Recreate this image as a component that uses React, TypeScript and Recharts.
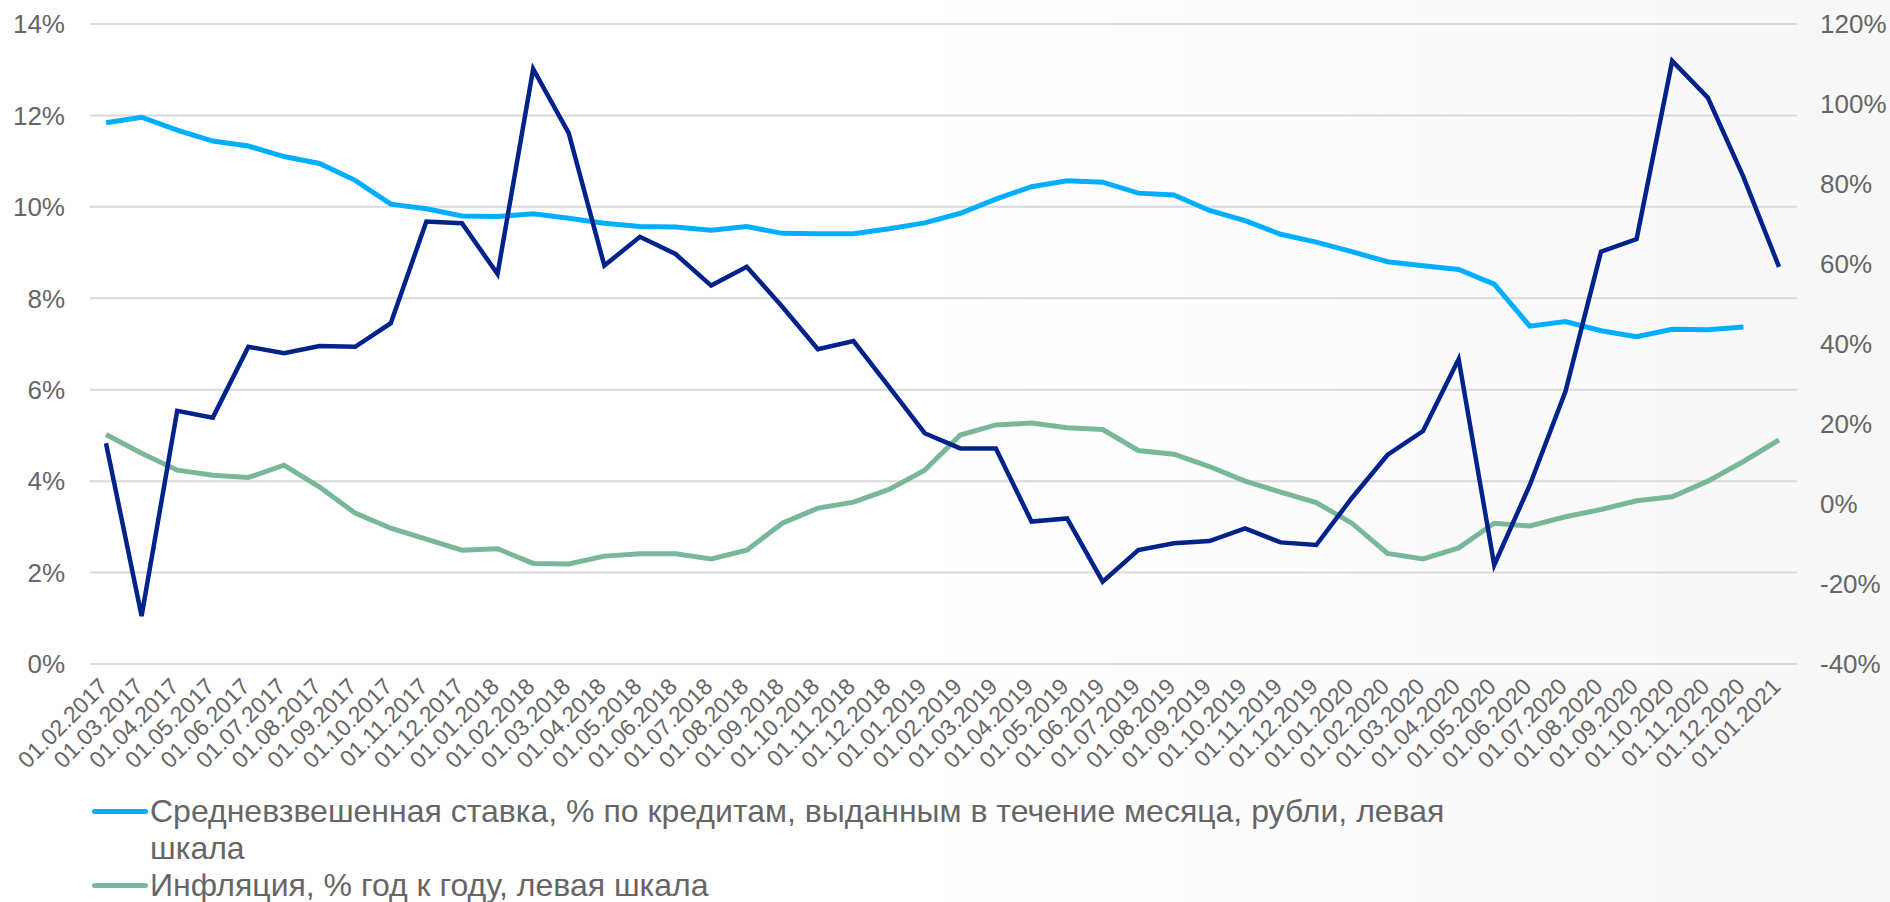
import { CartesianGrid, Line, LineChart, XAxis, YAxis } from "recharts";

const DATES = [
  "01.02.2017", "01.03.2017", "01.04.2017", "01.05.2017", "01.06.2017", "01.07.2017",
  "01.08.2017", "01.09.2017", "01.10.2017", "01.11.2017", "01.12.2017", "01.01.2018",
  "01.02.2018", "01.03.2018", "01.04.2018", "01.05.2018", "01.06.2018", "01.07.2018",
  "01.08.2018", "01.09.2018", "01.10.2018", "01.11.2018", "01.12.2018", "01.01.2019",
  "01.02.2019", "01.03.2019", "01.04.2019", "01.05.2019", "01.06.2019", "01.07.2019",
  "01.08.2019", "01.09.2019", "01.10.2019", "01.11.2019", "01.12.2019", "01.01.2020",
  "01.02.2020", "01.03.2020", "01.04.2020", "01.05.2020", "01.06.2020", "01.07.2020",
  "01.08.2020", "01.09.2020", "01.10.2020", "01.11.2020", "01.12.2020", "01.01.2021",
];

// left scale, %
const RATE = [
  11.84, 11.96, 11.68, 11.44, 11.33, 11.1, 10.95, 10.58, 10.06, 9.96, 9.8, 9.79,
  9.85, 9.75, 9.64, 9.57, 9.56, 9.49, 9.57, 9.42, 9.41, 9.41, 9.52, 9.65,
  9.86, 10.17, 10.44, 10.57, 10.54, 10.3, 10.26, 9.92, 9.7, 9.4, 9.23, 9.02,
  8.8, 8.71, 8.63, 8.31, 7.39, 7.49, 7.29, 7.16, 7.32, 7.31, 7.37, null,
];

// left scale, %
const INFLATION = [
  5.02, 4.61, 4.24, 4.13, 4.08, 4.35, 3.87, 3.3, 2.97, 2.73, 2.49, 2.52,
  2.2, 2.19, 2.36, 2.41, 2.41, 2.3, 2.49, 3.08, 3.41, 3.54, 3.82, 4.24,
  5.01, 5.23, 5.27, 5.17, 5.13, 4.67, 4.59, 4.32, 4.0, 3.76, 3.53, 3.08,
  2.42, 2.3, 2.54, 3.08, 3.02, 3.22, 3.38, 3.57, 3.66, 4.0, 4.43, 4.9,
];

// right scale, %
const GROWTH = [
  15.2, -28, 23.3, 21.6, 39.3, 37.7, 39.5, 39.3, 45.2, 70.6, 70.2, 57.5,
  108.75, 92.7, 59.6, 66.8, 62.5, 54.6, 59.3, 49.3, 38.7, 40.75, 29.3, 17.7,
  13.9, 13.9, -4.4, -3.6, -19.4, -11.5, -9.8, -9.25, -6.1, -9.6, -10.25, 1.5,
  12.25, 18.25, 36.2, -15.25, 4.75, 28.1, 63.1, 66.25, 110.75, 101.6, 81.8, 59.3,
];

const LEFT_TICKS = [0, 2, 4, 6, 8, 10, 12, 14];
const RIGHT_TICKS = [-40, -20, 0, 20, 40, 60, 80, 100, 120];

const SERIES = [
  { key: "rate", name: "Средневзвешенная ставка, % по кредитам, выданным в течение месяца, рубли, левая шкала", color: "#00AEFF" },
  { key: "inflation", name: "Инфляция, % год к году, левая шкала", color: "#78B898" },
];

const FONT = "'Liberation Sans', Arial, sans-serif";
const GREY = "#666666";

const data = DATES.map((date, i) => ({
  date,
  rate: RATE[i],
  inflation: INFLATION[i],
  growth: GROWTH[i],
}));

const DateTick = (props: any) => {
  const { x, y, payload } = props;
  return (
    <g transform={`translate(${x + 3},${y + 24})`}>
      <text textAnchor="end" transform="rotate(-45)" fontSize={23} fill={GREY} fontFamily={FONT}>
        {payload.value}
      </text>
    </g>
  );
};

export default function App() {
  const tickStyle = { fontSize: 26, fill: GREY, fontFamily: FONT };
  return (
    <div
      style={{
        position: "absolute",
        left: 0,
        top: 0,
        width: 1890,
        height: 902,
        background: "linear-gradient(to right, #ffffff 0%, #ffffff 50%, #f7f7f7 100%)",
        fontFamily: FONT,
      }}
    >
      <LineChart width={1890} height={794} data={data} margin={{ top: 24, right: 0, left: 0, bottom: 0 }}>
        <CartesianGrid vertical={false} stroke="#d9d9d9" strokeWidth={2} yAxisId="left" />
        <XAxis
          dataKey="date"
          height={130}
          interval={0}
          tick={<DateTick />}
          tickLine={false}
          axisLine={false}
          tickSize={0}
          tickMargin={0}
          padding={{ left: 16, right: 18 }}
        />
        <YAxis
          yAxisId="left"
          width={90}
          domain={[0, 14]}
          ticks={LEFT_TICKS}
          tickFormatter={(v) => `${v}%`}
          tick={tickStyle}
          tickLine={false}
          axisLine={false}
          tickSize={0}
          tickMargin={25}
        />
        <YAxis
          yAxisId="right"
          orientation="right"
          width={93}
          domain={[-40, 120]}
          ticks={RIGHT_TICKS}
          tickFormatter={(v) => `${v}%`}
          tick={tickStyle}
          tickLine={false}
          axisLine={false}
          tickSize={0}
          tickMargin={23}
        />
        <Line yAxisId="left" dataKey="rate" stroke="#00AEFF" strokeWidth={5} dot={false} isAnimationActive={false} />
        <Line yAxisId="left" dataKey="inflation" stroke="#78B898" strokeWidth={5} dot={false} isAnimationActive={false} />
        <Line yAxisId="right" dataKey="growth" stroke="#00238A" strokeWidth={4.5} dot={false} isAnimationActive={false} />
      </LineChart>
      <div style={{ position: "absolute", left: 92, top: 793 }}>
        {SERIES.map((s) => (
          <div key={s.key} style={{ display: "flex", alignItems: "flex-start" }}>
            <div style={{ width: 56, height: 5, marginTop: 16, background: s.color, borderRadius: 3, flexShrink: 0 }} />
            <div style={{ marginLeft: 2, width: 1340, fontSize: 32, lineHeight: "37px", color: GREY }}>{s.name}</div>
          </div>
        ))}
      </div>
    </div>
  );
}
